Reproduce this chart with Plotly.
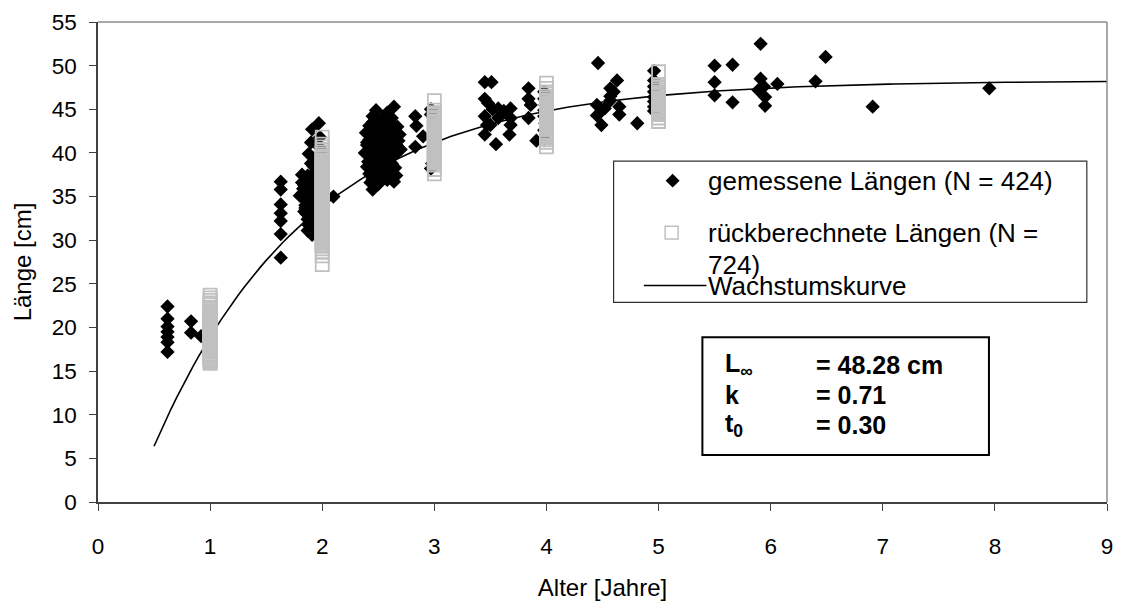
import numpy as np
import plotly.graph_objects as go

# von Bertalanffy parameters of the fitted growth curve
L_INF = 48.28
K = 0.71
T0 = 0.30

# measured lengths (age in years, length in cm)
measured_age = [
    0.62, 0.62, 0.62, 0.62, 0.62, 0.62, 0.62, 0.83, 0.83, 0.92,
    1.63, 1.63, 1.63, 1.63, 1.63, 1.63, 1.63,
    1.97, 1.91, 1.98, 1.90, 1.98, 1.99, 1.88, 1.90, 1.95, 1.82,
    1.93, 1.82, 1.89, 1.95, 1.86, 1.92, 1.85, 1.90, 1.96, 1.83,
    1.88, 1.94, 1.85, 1.91, 1.96, 1.84, 1.89, 1.94, 1.87, 1.92,
    1.97, 1.88, 1.94, 1.87, 1.91, 1.97, 2.10, 1.86, 1.90, 1.93,
    1.89, 1.80,
    1.84, 1.87, 1.92, 1.96, 1.91, 1.85, 1.90, 1.86, 1.93, 1.89,
    1.95, 1.92, 1.88, 1.94, 1.87, 1.96, 1.83, 1.91, 1.95, 1.92,
    2.64, 2.45, 2.58, 2.62, 2.51, 2.42, 2.55, 2.67, 2.47, 2.60,
    2.52, 2.44, 2.57, 2.64, 2.69, 2.49, 2.40, 2.55, 2.61, 2.46,
    2.52, 2.58, 2.70, 2.43, 2.65, 2.50, 2.56, 2.41, 2.47, 2.62,
    2.53, 2.44, 2.59, 2.49, 2.66, 2.45, 2.64, 2.45, 2.39, 2.38,
    2.54, 2.48, 2.60, 2.42, 2.50, 2.57, 2.63, 2.47, 2.53, 2.61,
    2.40, 2.43,
    2.45, 2.56, 2.63, 2.48, 2.59, 2.44, 2.66, 2.54, 2.60, 2.45,
    2.51, 2.57, 2.48, 2.65, 2.55, 2.42, 2.58, 2.50, 2.68, 2.40,
    2.83, 2.84, 2.83, 2.90, 2.97, 2.97, 2.98, 2.97,
    3.45, 3.51, 3.45, 3.48, 3.57, 3.68, 3.45, 3.57, 3.68, 3.47,
    3.68, 3.45, 3.55, 3.67, 3.84, 3.84, 3.86, 3.84, 3.91, 3.52,
    3.62, 3.50,
    3.98, 3.98, 3.99, 3.98, 3.98, 3.99, 3.98, 3.98,
    4.46, 4.63, 4.57, 4.57, 4.45, 4.49, 4.45, 4.49, 4.65, 4.65,
    4.81, 4.57, 4.52, 4.60,
    4.96, 4.96, 4.96, 4.96, 4.96, 4.96, 4.96, 4.96,
    5.50, 5.50, 5.50, 5.66, 5.66, 5.91, 5.91, 5.94, 5.89, 5.95,
    5.95, 6.06, 6.49, 6.40, 6.91, 7.95,
]
measured_len = [
    22.4, 21.0, 20.1, 19.5, 18.9, 18.3, 17.2, 20.7, 19.4, 19.0,
    36.7, 35.8, 34.1, 33.1, 32.2, 30.7, 28.0,
    43.4, 42.7, 41.8, 41.2, 40.6, 40.0, 39.9, 38.8, 39.3, 37.5,
    37.8, 36.6, 37.1, 36.6, 36.1, 35.9, 35.4, 35.2, 35.5, 34.8,
    34.6, 34.4, 34.0, 33.8, 33.6, 33.3, 33.1, 32.8, 32.4, 32.1,
    32.3, 31.7, 31.4, 31.1, 30.6, 30.9, 35.0, 35.8, 36.8, 34.0,
    32.7, 35.1,
    36.3, 37.4, 37.0, 37.2, 36.4, 33.7, 34.2, 33.0, 33.4, 31.9,
    31.9, 30.9, 35.6, 35.1, 34.4, 34.0, 35.9, 32.5, 38.2, 38.5,
    45.3, 44.2, 44.6, 44.0, 43.6, 43.1, 43.3, 43.0, 42.7, 42.5,
    42.2, 41.9, 41.8, 41.6, 42.1, 41.3, 40.9, 41.0, 40.6, 40.5,
    40.2, 40.0, 40.4, 39.7, 39.8, 39.5, 39.2, 39.0, 38.7, 38.8,
    38.4, 38.1, 38.0, 37.6, 37.4, 37.0, 36.7, 35.8, 42.3, 40.0,
    44.1, 44.9, 43.5, 41.5, 42.8, 39.6, 41.0, 39.2, 37.9, 37.7,
    38.4, 36.6,
    43.5, 42.6, 42.8, 41.6, 41.3, 40.1, 40.9, 39.9, 39.3, 39.4,
    38.9, 38.5, 38.2, 38.3, 37.3, 37.6, 36.9, 36.4, 41.4, 41.2,
    44.2, 43.1, 40.7, 41.9, 45.0, 44.4, 38.8, 38.2,
    48.1, 48.1, 46.2, 45.7, 45.1, 45.1, 44.2, 44.0, 44.0, 43.2,
    43.2, 42.1, 41.0, 42.1, 47.4, 46.2, 45.5, 44.0, 41.4, 45.0,
    44.8, 43.2,
    47.0, 46.2, 45.5, 44.9, 44.2, 43.4, 42.6, 41.6,
    50.3, 48.3, 47.4, 46.5, 45.5, 44.8, 44.3, 43.2, 45.3, 44.4,
    43.4, 46.0, 45.1, 47.0,
    49.4, 48.3, 47.6, 47.0, 46.4, 45.9, 45.3, 44.8,
    50.0, 48.1, 46.6, 50.1, 45.8, 52.5, 48.5, 47.6, 47.2, 46.4,
    45.4, 47.9, 51.0, 48.2, 45.3, 47.4,
]

# back-calculated lengths per age class (cm)
back_len_1 = [
    15.9, 16.0, 16.2, 16.3, 16.4, 16.5, 16.7, 16.8, 16.9, 17.0,
    17.2, 17.3, 17.4, 17.5, 17.7, 17.8, 17.9, 18.0, 18.2, 18.3,
    18.4, 18.5, 18.7, 18.8, 18.9, 19.0, 19.1, 19.3, 19.4, 19.5,
    19.6, 19.8, 19.9, 20.0, 20.1, 20.3, 20.4, 20.5, 20.6, 20.8,
    20.9, 21.0, 21.1, 21.3, 21.4, 21.5, 21.7, 21.8, 21.9, 22.1,
    22.2, 22.3, 22.6, 22.8, 23.1, 23.4, 23.7,
]
back_len_2 = [
    27.2, 28.2, 28.6, 29.0, 29.3, 29.4, 29.5, 29.7, 29.8, 29.9,
    30.1, 30.2, 30.3, 30.4, 30.6, 30.7, 30.8, 31.0, 31.1, 31.2,
    31.3, 31.5, 31.6, 31.7, 31.8, 32.0, 32.1, 32.2, 32.4, 32.5,
    32.6, 32.7, 32.9, 33.0, 33.1, 33.2, 33.4, 33.5, 33.6, 33.8,
    33.9, 34.0, 34.1, 34.3, 34.4, 34.5, 34.6, 34.8, 34.9, 35.0,
    35.2, 35.3, 35.4, 35.5, 35.7, 35.8, 35.9, 36.0, 36.2, 36.3,
    36.4, 36.6, 36.7, 36.8, 36.9, 37.1, 37.2, 37.3, 37.4, 37.6,
    37.7, 37.8, 38.0, 38.1, 38.2, 38.3, 38.5, 38.6, 38.7, 38.8,
    39.0, 39.1, 39.2, 39.4, 39.5, 39.6, 39.7, 39.9, 40.1, 40.4,
    40.7, 41.0, 41.8,
]
back_len_3 = [
    37.6, 38.1, 38.6, 38.8, 38.9, 39.0, 39.2, 39.3, 39.4, 39.5,
    39.7, 39.8, 39.9, 40.0, 40.2, 40.3, 40.4, 40.6, 40.7, 40.8,
    40.9, 41.1, 41.2, 41.3, 41.4, 41.6, 41.7, 41.8, 42.0, 42.1,
    42.2, 42.3, 42.5, 42.6, 42.7, 42.8, 43.0, 43.1, 43.2, 43.4,
    43.5, 43.6, 43.7, 43.9, 44.0, 44.1, 44.3, 44.6, 44.9, 46.0,
]
back_len_4 = [
    40.7, 41.2, 41.5, 41.7, 41.8, 41.9, 42.1, 42.2, 42.3, 42.4,
    42.6, 42.7, 42.8, 42.9, 43.1, 43.2, 43.3, 43.5, 43.6, 43.7,
    43.8, 44.0, 44.1, 44.2, 44.3, 44.5, 44.6, 44.7, 44.9, 45.0,
    45.1, 45.2, 45.4, 45.5, 45.6, 45.7, 45.9, 46.0, 46.1, 46.3,
    46.5, 46.8, 47.0, 47.4, 48.0,
]
back_len_5 = [
    43.6, 44.0, 44.4, 44.6, 44.7, 44.8, 44.9, 45.1, 45.2, 45.3,
    45.5, 45.6, 45.7, 45.8, 46.0, 46.1, 46.2, 46.3, 46.5, 46.6,
    46.7, 46.9, 47.0, 47.2, 47.4, 47.6, 47.8, 49.3,
]
back_ages = [1, 2, 3, 4, 5]
back_lens = [back_len_1, back_len_2, back_len_3, back_len_4, back_len_5]

x_ticks = list(range(0, 10))
y_ticks = list(range(0, 60, 5))

FONT = "Liberation Sans, Arial, sans-serif"
AXIS_COLOR = "#404040"

back_x = [a for a, lens in zip(back_ages, back_lens) for _ in lens]
back_y = [v for lens in back_lens for v in lens]

curve_t = np.arange(0.5, 9.0001, 0.05)
curve_l = L_INF * (1 - np.exp(-K * (curve_t - T0)))

fig = go.Figure()
fig.add_trace(go.Scatter(
    x=curve_t, y=curve_l, mode="lines",
    line=dict(color="black", width=1.6), name="Wachstumskurve",
))
fig.add_trace(go.Scatter(
    x=measured_age, y=measured_len, mode="markers",
    marker=dict(symbol="diamond", size=11, color="black", line=dict(width=0)),
    name="gemessene Längen (N = 424)",
))
fig.add_trace(go.Scatter(
    x=back_x, y=back_y, mode="markers",
    marker=dict(symbol="square-open", size=13, color="#c0c0c0",
                line=dict(width=1.8, color="#c0c0c0")),
    name="rückberechnete Längen (N = 724)",
))

axis_common = dict(
    showgrid=False, zeroline=False, showline=True,
    linecolor=AXIS_COLOR, linewidth=1.5,
    ticks="outside", ticklen=7, tickwidth=1.2, tickcolor=AXIS_COLOR,
    tickfont=dict(family=FONT, size=22.5, color="black"),
)
fig.update_xaxes(
    range=[0, 9], tickvals=x_ticks, ticklabelstandoff=16,
    title=dict(text="Alter [Jahre]", font=dict(family=FONT, size=24, color="black"), standoff=21),
    **axis_common,
)
fig.update_yaxes(
    range=[0, 55], tickvals=y_ticks, ticklabelstandoff=8,
    title=dict(text="Länge [cm]", font=dict(family=FONT, size=24, color="black"), standoff=13),
    **axis_common,
)

shapes = [
    # plot area frame (top and right)
    dict(type="line", xref="paper", yref="paper", x0=0, x1=1, y0=1, y1=1,
         line=dict(color="#8c8c8c", width=1.5)),
    dict(type="line", xref="paper", yref="paper", x0=1, x1=1, y0=0, y1=1,
         line=dict(color="#8c8c8c", width=1.5)),
    # legend frame
    dict(type="rect", xref="paper", yref="paper", x0=0.511, x1=0.980, y0=0.416, y1=0.710,
         line=dict(color="#303030", width=1.2), fillcolor="white", layer="above"),
    # legend keys
    dict(type="path", xref="paper", yref="paper",
         path="M 0.5626,0.6694 L 0.5695,0.6837 L 0.5764,0.6694 L 0.5695,0.6551 Z",
         fillcolor="black", line=dict(width=0), layer="above"),
    dict(type="rect", xref="paper", yref="paper", x0=0.5621, x1=0.5749, y0=0.5479, y1=0.5745,
         line=dict(color="#c0c0c0", width=1.5), fillcolor="rgba(0,0,0,0)", layer="above"),
    dict(type="line", xref="paper", yref="paper", x0=0.541, x1=0.603, y0=0.451, y1=0.451,
         line=dict(color="black", width=1.6), layer="above"),
    # parameter box
    dict(type="rect", xref="paper", yref="paper", x0=0.599, x1=0.883, y0=0.098, y1=0.343,
         line=dict(color="black", width=2), fillcolor="white", layer="above"),
]

legend_font = dict(family=FONT, size=26, color="black")
param_font = dict(family=FONT, size=25, color="black")
annotations = [
    dict(text="gemessene Längen (N = 424)", x=0.603, y=0.669),
    dict(text="rückberechnete Längen (N =", x=0.603, y=0.561),
    dict(text="724)", x=0.603, y=0.494),
    dict(text="Wachstumskurve", x=0.603, y=0.451),
]
annotations = [dict(a, xref="paper", yref="paper", xanchor="left", yanchor="middle",
                    showarrow=False, font=legend_font) for a in annotations]

param_rows = [
    ("<b>L<sub>∞</sub></b>", f"<b>= {L_INF:.2f} cm</b>", 0.286),
    ("<b>k</b>", f"<b>= {K:.2f}</b>", 0.222),
    ("<b>t<sub>0</sub></b>", f"<b>= {T0:.2f}</b>", 0.161),
]
for left, right, yy in param_rows:
    annotations.append(dict(text=left, x=0.619, y=yy, xref="paper", yref="paper",
                            xanchor="left", yanchor="middle", showarrow=False, font=param_font))
    annotations.append(dict(text=right, x=0.710, y=yy, xref="paper", yref="paper",
                            xanchor="left", yanchor="middle", showarrow=False, font=param_font))

fig.update_layout(
    width=1121, height=605,
    margin=dict(l=98, r=8, t=22, b=93),
    paper_bgcolor="white", plot_bgcolor="white",
    showlegend=False,
    shapes=shapes, annotations=annotations,
    font=dict(family=FONT, color="black"),
)

fig.write_html("out.html")
